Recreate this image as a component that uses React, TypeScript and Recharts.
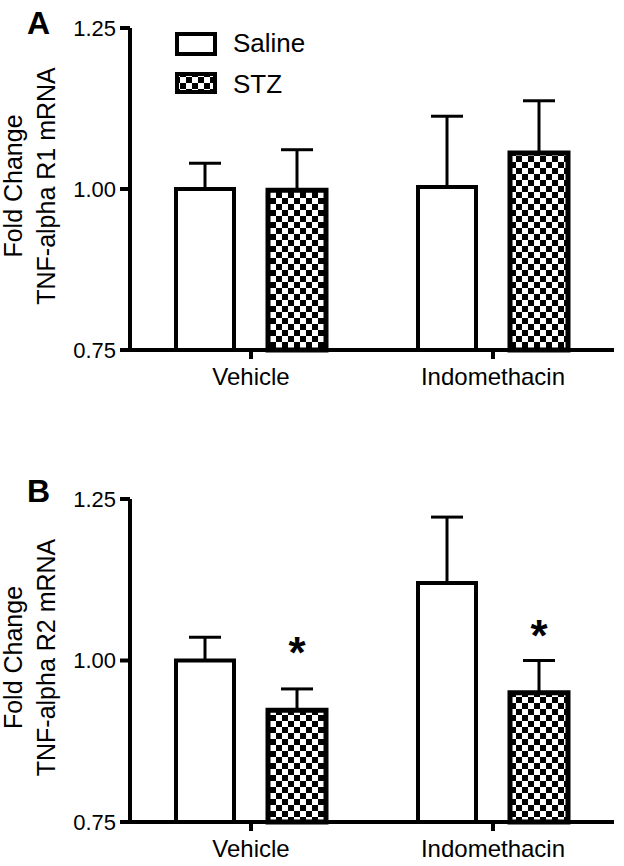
import { BarChart, Bar, XAxis, YAxis, ErrorBar, LabelList, Legend } from 'recharts'

const groups = ['Vehicle', 'Indomethacin']
const seriesNames = ['Saline', 'STZ']
const yTicks = [0.75, 1.0, 1.25]

// panel A - TNF-alpha R1 mRNA
const r1Saline = [1.0, 1.003]
const r1SalineSem = [0.04, 0.11]
const r1Stz = [0.998, 1.056]
const r1StzSem = [0.063, 0.081]

// panel B - TNF-alpha R2 mRNA
const r2Saline = [1.0, 1.12]
const r2SalineSem = [0.036, 0.102]
const r2Stz = [0.923, 0.95]
const r2StzSem = [0.033, 0.05]
const r2StarAt = [1.026, 1.052] // where the * sits

const FONT = '"Liberation Sans", Arial, Helvetica, sans-serif'
const BASE = 0.75

const buildRows = (saline: number[], salineSem: number[], stz: number[], stzSem: number[], stars?: number[]) =>
  groups.map((g, i) => ({
    group: g,
    saline: saline[i],
    salineErr: [0, salineSem[i]],
    stz: stz[i],
    stzErr: [0, stzSem[i]],
    star: stars ? stars[i] : null,
  }))

const CheckerDefs = ({ id }: { id: string }) => (
  <defs>
    <pattern id={id} width={12} height={12} patternUnits="userSpaceOnUse">
      <rect width={12} height={12} fill="#fff" />
      <rect x={0} y={0} width={6} height={6} fill="#000" />
      <rect x={6} y={6} width={6} height={6} fill="#000" />
    </pattern>
  </defs>
)

const LegendBox = () => (
  <svg width={160} height={80} style={{ fontFamily: FONT }}>
    <CheckerDefs id="legendChecker" />
    {seriesNames.map((name, i) => (
      <g key={name}>
        <rect
          x={9}
          y={i === 0 ? 11 : 51}
          width={38}
          height={i === 0 ? 20 : 18}
          fill={i === 0 ? '#fff' : 'url(#legendChecker)'}
          stroke="#000"
          strokeWidth={4}
        />
        <text x={65} y={i === 0 ? 29 : 70} fontSize={26} fill="#000">
          {name}
        </text>
      </g>
    ))}
  </svg>
)

// y axis title (two rotated lines) plus the panel letter
const makeYLabel = (panel: string, lines: string[], letterY: number) => (props: any) => {
  const vb = props.viewBox || { y: 0, height: 0 }
  const cy = vb.y + vb.height / 2 - 3
  return (
    <g>
      <text x={27} y={letterY} fontSize={32} fontWeight="bold" fill="#000">
        {panel}
      </text>
      <text transform={`rotate(-90, 22, ${cy})`} x={22} y={cy} textAnchor="middle" fontSize={25} fill="#000">
        <tspan x={22} dy={0}>{lines[0]}</tspan>
        <tspan x={22} dy={33}>{lines[1]}</tspan>
      </text>
    </g>
  )
}

const renderYTick = (props: any) => {
  const { x, y, payload } = props
  return (
    <text x={x} y={y} dy="0.36em" textAnchor="end" fontSize={22} fill="#000">
      {Number(payload.value).toFixed(2)}
    </text>
  )
}

const renderStar = (props: any) => {
  const { x, y, width, height, index, value } = props
  if (value == null) return null
  const row = props.rows[index]
  const ppu = height / (row.stz - BASE)
  const cy = y + height - (value - BASE) * ppu
  return (
    <text x={x + width / 2} y={cy + 24} textAnchor="middle" fontSize={44} fontWeight="bold" fill="#000">
      *
    </text>
  )
}

interface PanelProps {
  panel: string
  rows: any[]
  lines: string[]
  top: number
  bottom: number
  xAxisHeight: number
  letterY: number
  showLegend?: boolean
}

function Panel({ panel, rows, lines, top, bottom, xAxisHeight, letterY, showLegend }: PanelProps) {
  const patId = 'checker' + panel
  return (
    <BarChart
      width={624}
      height={433}
      data={rows}
      margin={{ top, right: 10, bottom, left: 0 }}
      barSize={58}
      barGap={34}
    >
      <CheckerDefs id={patId} />
      <XAxis
        dataKey="group"
        height={xAxisHeight}
        tickSize={9}
        tickMargin={9}
        axisLine={{ stroke: '#000', strokeWidth: 4 }}
        tickLine={{ stroke: '#000', strokeWidth: 4 }}
        tick={{ fill: '#000', fontSize: 24 }}
      />
      <YAxis
        width={130}
        domain={[0.75, 1.25]}
        ticks={yTicks}
        tickSize={10}
        tickMargin={4}
        axisLine={{ stroke: '#000', strokeWidth: 4 }}
        tickLine={{ stroke: '#000', strokeWidth: 4 }}
        tick={renderYTick}
        label={{ content: makeYLabel(panel, lines, letterY) }}
      />
      {showLegend && (
        <Legend
          layout="vertical"
          align="center"
          verticalAlign="middle"
          content={() => <LegendBox />}
          wrapperStyle={{ left: 168, top: 23, width: 160, height: 80 }}
        />
      )}
      <Bar dataKey="saline" name="Saline" fill="#fff" stroke="#000" strokeWidth={4} isAnimationActive={false}>
        <ErrorBar dataKey="salineErr" width={16} strokeWidth={3} stroke="#000" direction="y" />
      </Bar>
      <Bar dataKey="stz" name="STZ" fill={`url(#${patId})`} stroke="#000" strokeWidth={5} isAnimationActive={false}>
        <ErrorBar dataKey="stzErr" width={16} strokeWidth={3} stroke="#000" direction="y" />
        <LabelList dataKey="star" content={(p: any) => renderStar({ ...p, rows })} />
      </Bar>
    </BarChart>
  )
}

export default function App() {
  const rowsA = buildRows(r1Saline, r1SalineSem, r1Stz, r1StzSem)
  const rowsB = buildRows(r2Saline, r2SalineSem, r2Stz, r2StzSem, r2StarAt)
  return (
    <div style={{ position: 'absolute', left: 0, top: 0, width: 624, height: 866, background: '#fff', fontFamily: FONT }}>
      <div style={{ position: 'absolute', left: 0, top: 0 }}>
        <Panel
          panel="A"
          rows={rowsA}
          lines={['Fold Change', 'TNF-alpha R1 mRNA']}
          top={28}
          bottom={23}
          xAxisHeight={60}
          letterY={34}
          showLegend
        />
      </div>
      <div style={{ position: 'absolute', left: 0, top: 433 }}>
        <Panel
          panel="B"
          rows={rowsB}
          lines={['Fold Change', 'TNF-alpha R2 mRNA']}
          top={66}
          bottom={4}
          xAxisHeight={40}
          letterY={69}
        />
      </div>
    </div>
  )
}
